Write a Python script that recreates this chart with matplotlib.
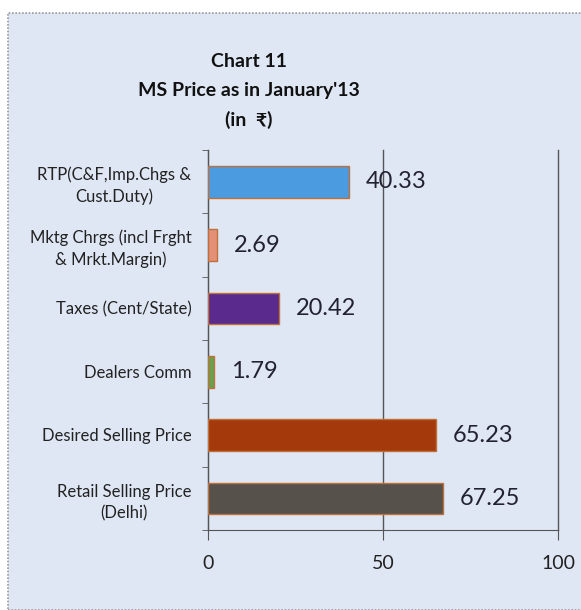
import matplotlib
matplotlib.use("Agg")
import matplotlib.pyplot as plt
from matplotlib.patches import Rectangle
import numpy as np

categories = ["RTP(C&F,Imp.Chgs &\nCust.Duty)",
              "Mktg Chrgs (incl Frght\n& Mrkt.Margin)",
              "Taxes (Cent/State)",
              "Dealers Comm",
              "Desired Selling Price",
              "Retail Selling Price\n(Delhi)"]
values = [40.33, 2.69, 20.42, 1.79, 65.23, 67.25]
value_labels = ["40.33", "2.69", "20.42", "1.79", "65.23", "67.25"]
colors = ["#4b9be0", "#e39078", "#5a2a8c", "#6aa04c", "#a43a0c", "#57514b"]
xticks = [0, 50, 100]
title = "Chart 11\nMS Price as in January'13\n(in  \u20b9)"

plt.rcParams['font.family'] = ['Lato', 'DejaVu Sans']

bg = "#dfe7f4"
fig = plt.figure(figsize=(5.81, 6.10), dpi=100)
fig.patch.set_facecolor("white")
fig.patches.append(Rectangle((8/581, 0), 1.0, 1 - 13/610, transform=fig.transFigure,
                             facecolor=bg, edgecolor="#9a9a9a", linestyle=(0, (1, 1)),
                             linewidth=1.2, zorder=-5))

ax = fig.add_axes([208/581, 80/610, 350/581, 380/610])
ax.set_zorder(2)
ax.set_facecolor("none")
y = np.arange(len(categories))
ax.barh(y, values, height=0.5, color=colors, edgecolor="#c0703a", linewidth=1.0, zorder=3)
for yi, v, lab in zip(y, values, value_labels):
    ax.annotate(lab, (v, yi), xytext=(12, 0), textcoords="offset points",
                va="center", ha="left", fontsize=17, color="#222233", zorder=4)
ax.set_ylim(len(categories) - 0.5, -0.5)
ax.set_xlim(0, 100)
ax.set_xticks(xticks)
ax.set_xticklabels([str(t) for t in xticks], fontsize=14, color="#222222")
ax.set_yticks(y)
ax.set_yticklabels(categories, fontsize=12, color="#222222", ha="right",
                   multialignment="center", linespacing=1.4)
ax.tick_params(axis="y", which="major", length=0, pad=12)
ax.set_yticks(np.arange(-0.5, len(categories), 1.0), minor=True)
ax.tick_params(axis="y", which="minor", length=4, color="#555555", direction="out")
ax.tick_params(axis="x", which="major", length=7, color="#555555", direction="out", pad=11)
ax.grid(axis="x", color="#555555", linewidth=1.0, zorder=1)
for gl in ax.get_xgridlines():
    gl.set_clip_on(False)
for s in ["top", "right"]:
    ax.spines[s].set_visible(False)
ax.spines["left"].set_color("#555555")
ax.spines["bottom"].set_color("#555555")

fig.text(249/581, 1 - 91/610, title, ha="center", va="center", fontsize=14,
         fontweight="bold", color="#111111", linespacing=1.85)

fig.savefig("out.png", dpi=100, facecolor=fig.get_facecolor())
